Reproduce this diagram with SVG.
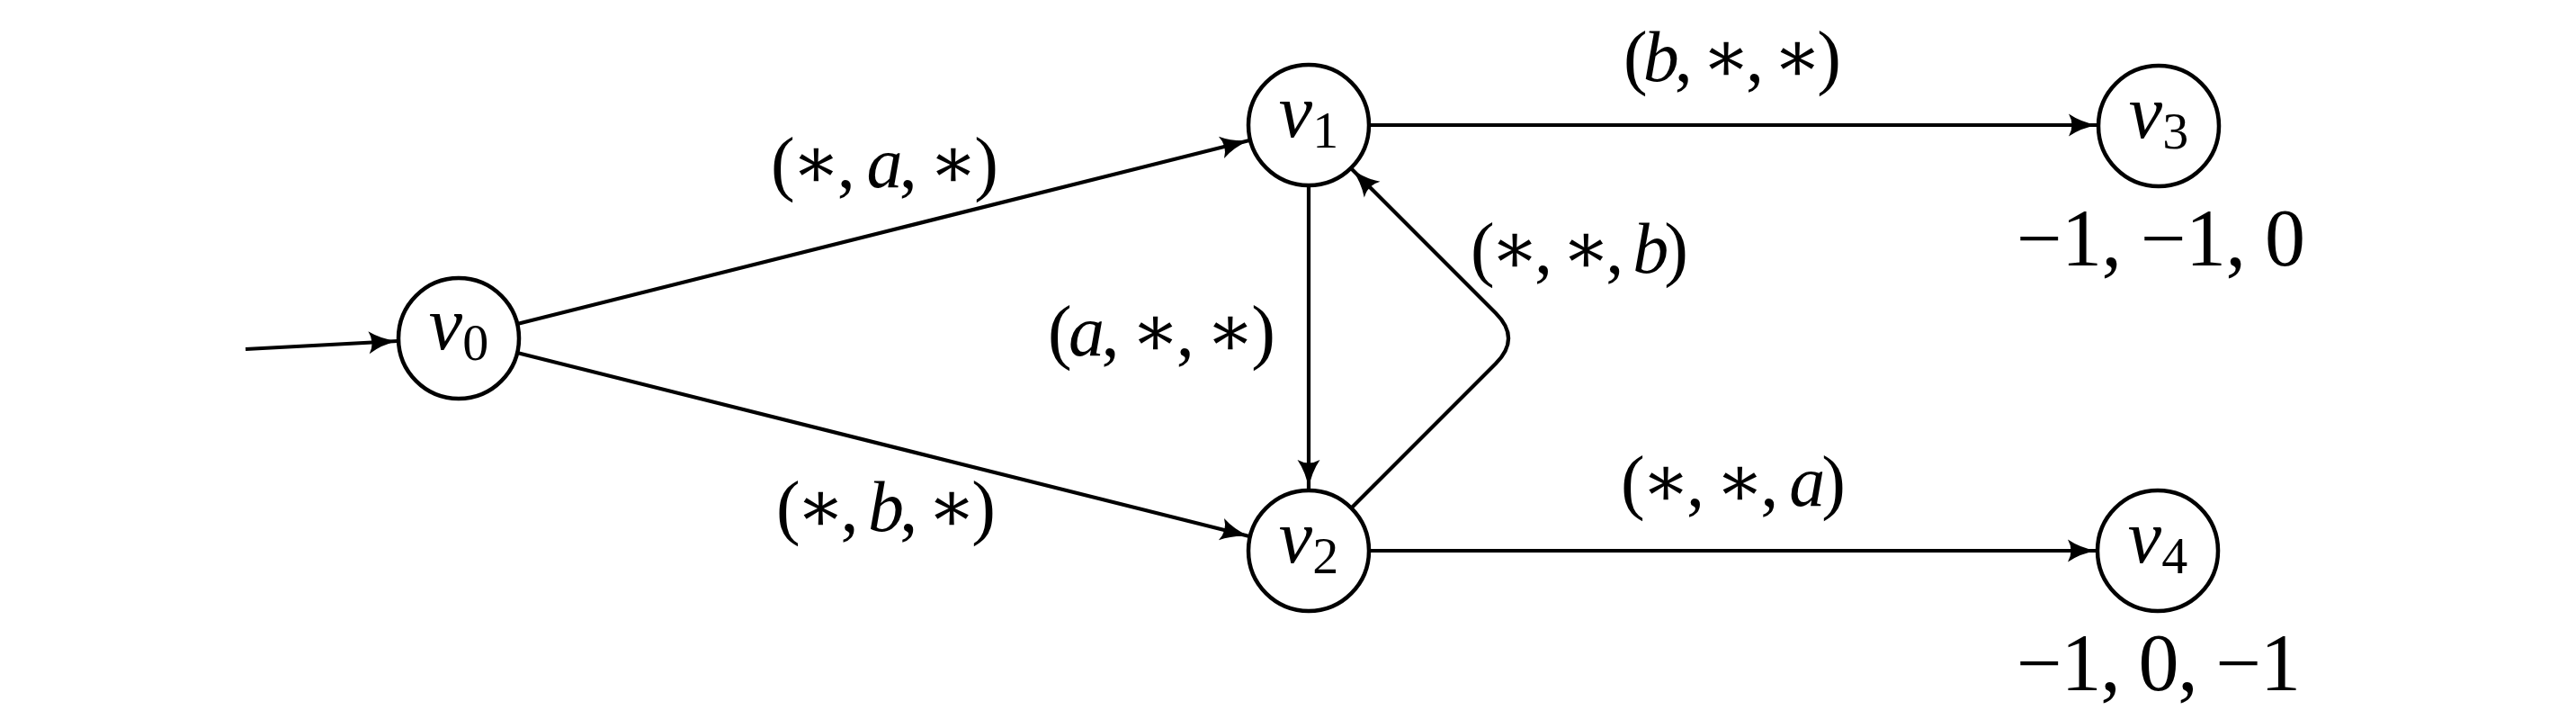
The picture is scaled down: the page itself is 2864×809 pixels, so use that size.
<svg xmlns="http://www.w3.org/2000/svg" width="2864" height="809" viewBox="0 0 2864 809">
<style>
.node{fill:#fff;stroke:#000;stroke-width:4.5}
.edge{fill:none;stroke:#000;stroke-width:4.2;marker-end:url(#arr)}
.t{font-family:"Liberation Serif","DejaVu Serif",serif;font-size:80px;fill:#000}
.p{font-size:90px}
.i{font-style:italic}
.v{font-size:84px}
.sub{font-size:58px;font-style:normal}
</style>
<defs>
<marker id="arr" markerUnits="userSpaceOnUse" markerWidth="40" markerHeight="30" viewBox="0 -15 34 30" refX="32" refY="0" orient="auto">
<path d="M32,0 Q14,3 0,12.5 Q7,0 0,-12.5 Q14,-3 32,0 Z" fill="#000"/>
</marker>
</defs>
<rect width="2864" height="809" fill="#fff"/>
<g id="connectors">
<path class="edge" d="M273,388 L442,379"/>
<path class="edge" d="M575,360 L1389,156"/>
<path class="edge" d="M575,392 L1389,596"/>
<path class="edge" d="M1455,206 L1455,543"/>
<path class="edge" d="M1522,139 L2332,139"/>
<path class="edge" d="M1522,612 L2331,612"/>
<path class="edge" d="M1503,564 L1663,404 Q1691,376 1663,348 L1503,188"/>
<text class="t" x="857" y="208" textLength="253" lengthAdjust="spacing">(∗, <tspan class="i">a</tspan>, ∗)</text>
<text class="t" x="863" y="590" textLength="244" lengthAdjust="spacing">(∗, <tspan class="i">b</tspan>, ∗)</text>
<text class="t" x="1165" y="395" textLength="253" lengthAdjust="spacing">(<tspan class="i">a</tspan>, ∗, ∗)</text>
<text class="t" x="1635" y="303" textLength="242" lengthAdjust="spacing">(∗, ∗, <tspan class="i">b</tspan>)</text>
<text class="t" x="1805" y="90" textLength="242" lengthAdjust="spacing">(<tspan class="i">b</tspan>, ∗, ∗)</text>
<text class="t" x="1802" y="562" textLength="250" lengthAdjust="spacing">(∗, ∗, <tspan class="i">a</tspan>)</text>
</g>
<g id="v0">
<circle class="node" cx="510" cy="376" r="67"/>
<text class="t i v" x="510" y="388" text-anchor="middle">v<tspan class="sub" dy="12">0</tspan></text>
</g>
<g id="v1">
<circle class="node" cx="1455" cy="139" r="67"/>
<text class="t i v" x="1455" y="152" text-anchor="middle">v<tspan class="sub" dy="12">1</tspan></text>
</g>
<g id="v2">
<circle class="node" cx="1455" cy="612" r="67"/>
<text class="t i v" x="1455" y="625" text-anchor="middle">v<tspan class="sub" dy="12">2</tspan></text>
</g>
<g id="v3">
<circle class="node" cx="2400" cy="140" r="67"/>
<text class="t i v" x="2400" y="153" text-anchor="middle">v<tspan class="sub" dy="12">3</tspan></text>
<text class="t p" x="2242" y="295" textLength="321" lengthAdjust="spacing">−1, −1, 0</text>
</g>
<g id="v4">
<circle class="node" cx="2399" cy="612" r="67"/>
<text class="t i v" x="2399" y="625" text-anchor="middle">v<tspan class="sub" dy="12">4</tspan></text>
<text class="t p" x="2242" y="767" textLength="316" lengthAdjust="spacing">−1, 0, −1</text>
</g>
</svg>
